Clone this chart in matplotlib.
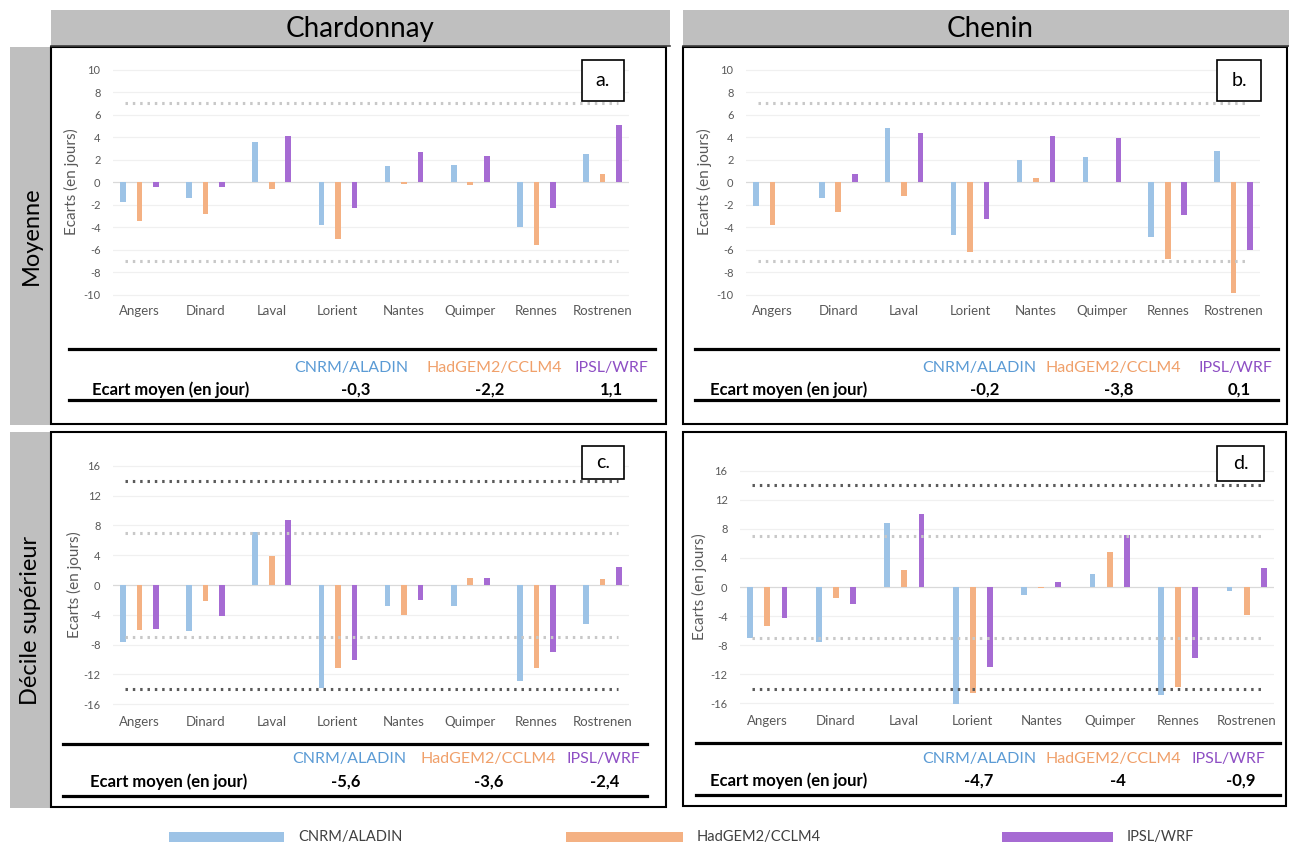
import numpy as np
import matplotlib
matplotlib.use("Agg")
import matplotlib.pyplot as plt
from matplotlib.patches import Rectangle
from matplotlib.lines import Line2D

plt.rcParams['font.family'] = ['Lato', 'DejaVu Sans']

# data
stations = ['Angers', 'Dinard', 'Laval', 'Lorient', 'Nantes', 'Quimper', 'Rennes', 'Rostrenen']
models = ['CNRM/ALADIN', 'HadGEM2/CCLM4', 'IPSL/WRF']

# a. Chardonnay - Moyenne
a_cnrm = [-1.8, -1.4, 3.6, -3.8, 1.4, 1.5, -4.0, 2.5]
a_had = [-3.5, -2.8, -0.6, -5.1, -0.2, -0.3, -5.6, 0.7]
a_ipsl = [-0.4, -0.4, 4.1, -2.3, 2.7, 2.3, -2.3, 5.1]
a_mean = [-0.3, -2.2, 1.1]

# b. Chenin - Moyenne
b_cnrm = [-2.1, -1.4, 4.8, -4.7, 2.0, 2.2, -4.9, 2.8]
b_had = [-3.8, -2.7, -1.2, -6.2, 0.4, 0.0, -6.8, -9.9]
b_ipsl = [0.0, 0.7, 4.4, -3.3, 4.1, 3.9, -2.9, -6.0]
b_mean = [-0.2, -3.8, 0.1]

# c. Chardonnay - Décile supérieur
c_cnrm = [-7.7, -6.2, 7.1, -13.9, -2.8, -2.8, -12.9, -5.2]
c_had = [-6.0, -2.1, 3.9, -11.1, -4.0, 0.9, -11.1, 0.8]
c_ipsl = [-5.9, -4.1, 8.8, -10.1, -2.0, 0.9, -9.0, 2.4]
c_mean = [-5.6, -3.6, -2.4]

# d. Chenin - Décile supérieur
d_cnrm = [-7.0, -7.6, 8.8, -16.1, -1.1, 1.8, -14.8, -0.6]
d_had = [-5.4, -1.5, 2.4, -14.6, -0.2, 4.8, -13.7, -3.9]
d_ipsl = [-4.2, -2.4, 10.0, -11.0, 0.7, 7.1, -9.8, 2.6]
d_mean = [-4.7, -4.0, -0.9]

bar_colors = ['#9DC3E6', '#F4B183', '#A66BD3']
text_colors = ['#5B9BD5', '#F0A06A', '#8E4FC4']

W, H = 1289, 849
fig = plt.figure(figsize=(W / 100, H / 100), dpi=100)
fig.patch.set_facecolor('white')


def fx(x):
    return x / W


def fy(y):
    return 1 - y / H


def rect(x0, y0, x1, y1, **kw):
    r = Rectangle((fx(x0), fy(y1)), fx(x1 - x0), (y1 - y0) / H,
                  transform=fig.transFigure, **kw)
    fig.add_artist(r)


def hline(x0, x1, y, lw=2.3, color='black'):
    fig.add_artist(Line2D([fx(x0), fx(x1)], [fy(y), fy(y)],
                          transform=fig.transFigure, lw=lw, color=color))


# column and row headers
rect(51, 10, 670, 46, facecolor='#BFBFBF', edgecolor='none', zorder=-2)
rect(683, 10, 1289, 46, facecolor='#BFBFBF', edgecolor='none', zorder=-2)
hline(51, 670, 46, lw=1.2, color='#404040')
hline(683, 1289, 46, lw=1.2, color='#404040')
fig.text(fx(360), fy(29), 'Chardonnay', ha='center', va='center', fontsize=20)
fig.text(fx(990), fy(29), 'Chenin', ha='center', va='center', fontsize=20)

rect(10, 47, 51, 425, facecolor='#BFBFBF', edgecolor='none', zorder=-2)
rect(10, 432, 51, 808, facecolor='#BFBFBF', edgecolor='none', zorder=-2)
fig.text(fx(31), fy(236), 'Moyenne', ha='center', va='center', rotation=90, fontsize=17)
fig.text(fx(31), fy(620), 'Décile supérieur', ha='center', va='center', rotation=90, fontsize=17)

panels = [
    dict(series=[a_cnrm, a_had, a_ipsl], mean=a_mean, tag='a.',
         box=(51, 47, 666, 424), x0=113, x1=629, y0=182, ppu=11.25, lim=10.6,
         ticks=np.arange(-10, 11, 2), lines=[(7, '#C8C8C8')],
         ylab=71, tagbox=(582, 60, 624, 101),
         tab=dict(l0=69, l1=655, top=349, lab=368, val=390, bot=400,
                  ecart=171, labx=[351, 494, 611], valx=[356, 490, 611])),
    dict(series=[b_cnrm, b_had, b_ipsl], mean=b_mean, tag='b.',
         box=(683, 47, 1287, 424), x0=746, x1=1260, y0=182, ppu=11.25, lim=10.6,
         ticks=np.arange(-10, 11, 2), lines=[(7, '#C8C8C8')],
         ylab=704, tagbox=(1217, 60, 1261, 101),
         tab=dict(l0=695, l1=1278, top=349, lab=368, val=390, bot=400,
                  ecart=789, labx=[979, 1113, 1235], valx=[985, 1119, 1239])),
    dict(series=[c_cnrm, c_had, c_ipsl], mean=c_mean, tag='c.',
         box=(51, 432, 666, 807), x0=113, x1=629, y0=585, ppu=7.44, lim=17,
         ticks=np.arange(-16, 17, 4), lines=[(7, '#C8C8C8'), (14, '#5A5A5A')],
         ylab=74, tagbox=(582, 446, 624, 479),
         tab=dict(l0=63, l1=647, top=744, lab=759, val=782, bot=796,
                  ecart=169, labx=[349, 488, 603], valx=[346, 489, 605])),
    dict(series=[d_cnrm, d_had, d_ipsl], mean=d_mean, tag='d.',
         box=(683, 432, 1286, 806), x0=740, x1=1274, y0=587, ppu=7.28, lim=17,
         ticks=np.arange(-16, 17, 4), lines=[(7, '#C8C8C8'), (14, '#5A5A5A')],
         ylab=699, tagbox=(1217, 446, 1264, 481),
         tab=dict(l0=696, l1=1280, top=743, lab=759, val=781, bot=795,
                  ecart=789, labx=[979, 1113, 1228], valx=[979, 1118, 1241])),
]

x = np.arange(len(stations))
offsets = [-0.25, 0.0, 0.25]

for p in panels:
    bx0, by0, bx1, by1 = p['box']
    rect(bx0, by0, bx1, by1, facecolor='white', edgecolor='black', lw=1.5, zorder=-1)

    top = p['y0'] - p['lim'] * p['ppu']
    bot = p['y0'] + p['lim'] * p['ppu']
    ax = fig.add_axes([fx(p['x0']), fy(bot), fx(p['x1'] - p['x0']), (bot - top) / H])
    ax.set_facecolor('none')
    ax.set_xlim(-0.4, 7.4)
    ax.set_ylim(-p['lim'], p['lim'])
    ax.set_yticks(p['ticks'])
    ax.set_yticklabels([str(t) for t in p['ticks']])
    for t in p['ticks']:
        ax.axhline(t, color='#F0F0F0' if t != 0 else '#D9D9D9', lw=0.9, zorder=0)
    for lvl, col in p['lines']:
        for s in (1, -1):
            ax.plot([-0.22, 7.23], [s * lvl, s * lvl], color=col, lw=2.2,
                    linestyle=(0, (0.8, 1.6)), zorder=3)
    for vals, off, col in zip(p['series'], offsets, bar_colors):
        ax.bar(x + off, vals, width=0.085, color=col, zorder=2)
    ax.set_xticks(x)
    ax.set_xticklabels(stations)
    ax.tick_params(axis='x', length=0, pad=3, labelsize=9.5, labelcolor='#595959')
    ax.tick_params(axis='y', length=0, pad=9, labelsize=8, labelcolor='#595959')
    for sp in ax.spines.values():
        sp.set_visible(False)
    fig.text(fx(p['ylab']), fy(p['y0']), 'Ecarts (en jours)', rotation=90,
             ha='center', va='center', fontsize=11, color='#595959')

    tx0, ty0, tx1, ty1 = p['tagbox']
    rect(tx0, ty0, tx1, ty1, facecolor='white', edgecolor='black', lw=1.2, zorder=4)
    fig.text(fx((tx0 + tx1) / 2), fy((ty0 + ty1) / 2), p['tag'], ha='center',
             va='center', fontsize=14, zorder=5)

    tb = p['tab']
    hline(tb['l0'], tb['l1'], tb['top'])
    hline(tb['l0'], tb['l1'], tb['bot'])
    fig.text(fx(tb['ecart']), fy(tb['val']), 'Ecart moyen (en jour)', ha='center',
             va='center', fontsize=12, fontweight='bold')
    for m, c, lx, vx, v in zip(models, text_colors, tb['labx'], tb['valx'], p['mean']):
        fig.text(fx(lx), fy(tb['lab']), m, ha='center', va='center', fontsize=11.5, color=c)
        fig.text(fx(vx), fy(tb['val']), f"{v:g}".replace('.', ','), ha='center',
                 va='center', fontsize=12, fontweight='bold')

# bottom legend
leg_bars = [(169, 284), (566, 683), (1002, 1113)]
for m, c, (lx0, lx1) in zip(models, bar_colors, leg_bars):
    rect(lx0, 832, lx1, 842, facecolor=c, edgecolor='none')
    fig.text(fx(lx1 + 14), fy(837), m, ha='left', va='center', fontsize=10.5, color='#404040')

fig.savefig('out.png', dpi=100)
